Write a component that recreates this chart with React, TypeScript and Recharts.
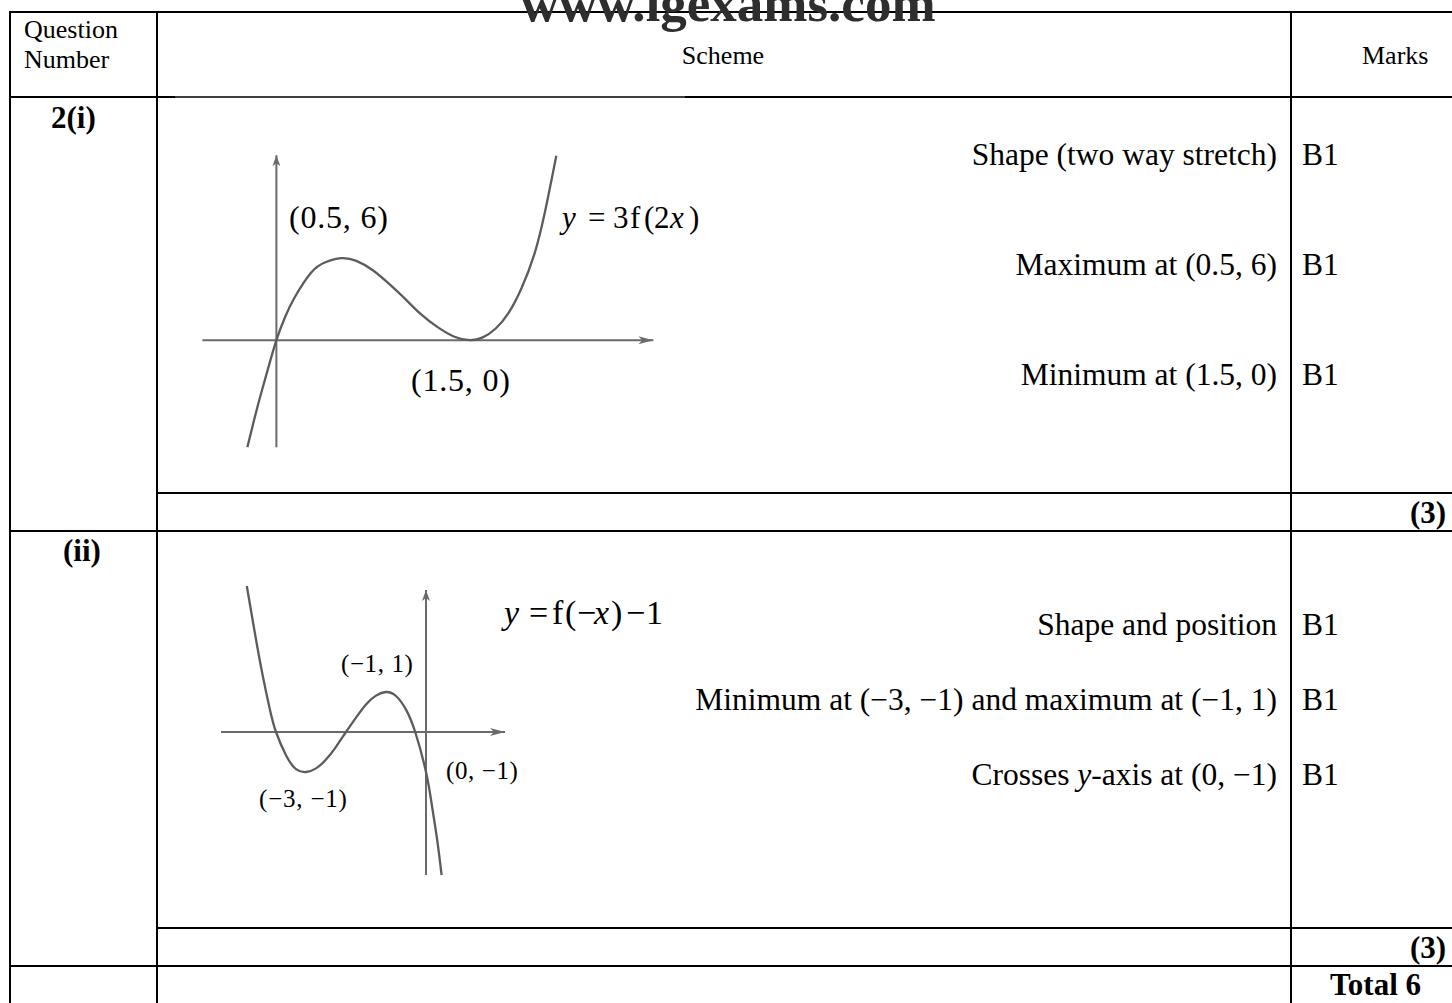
import React from 'react';
import { ComposedChart, Line, Scatter, XAxis, YAxis } from 'recharts';

// ---------- data ----------
// Sketch (i): y = 3f(2x)
const curve1 = [
  { x: -0.225, y: -7.83 },
  { x: -0.15, y: -5.0 },
  { x: -0.08, y: -2.6 },
  { x: 0, y: 0 },
  { x: 0.07, y: 1.75 },
  { x: 0.14, y: 3.1 },
  { x: 0.27, y: 4.95 },
  { x: 0.38, y: 5.7 },
  { x: 0.5, y: 6 },
  { x: 0.62, y: 5.8 },
  { x: 0.75, y: 5.1 },
  { x: 0.87, y: 4.15 },
  { x: 1.0, y: 3.0 },
  { x: 1.12, y: 1.9 },
  { x: 1.25, y: 0.95 },
  { x: 1.38, y: 0.25 },
  { x: 1.5, y: 0 },
  { x: 1.6, y: 0.2 },
  { x: 1.7, y: 0.85 },
  { x: 1.8, y: 2.0 },
  { x: 1.9, y: 3.8 },
  { x: 2.0, y: 6.3 },
  { x: 2.08, y: 9.3 },
  { x: 2.17, y: 13.5 },
];
const xAxis1 = [
  { x: -0.574, y: 0 },
  { x: 2.922, y: 0 },
];
const yAxis1 = [
  { x: 0, y: -7.83 },
  { x: 0, y: 13.53 },
];
const arrows1 = [
  { x: 2.922, y: 0, dir: 'right' },
  { x: 0, y: 13.53, dir: 'up' },
];

// Sketch (ii): y = f(-x) - 1
const curve2 = [
  { x: -4.48, y: 3.65 },
  { x: -4.3, y: 2.6 },
  { x: -4.1, y: 1.5 },
  { x: -3.9, y: 0.55 },
  { x: -3.75, y: 0 },
  { x: -3.5, y: -0.58 },
  { x: -3.25, y: -0.93 },
  { x: -3.0, y: -1 },
  { x: -2.75, y: -0.91 },
  { x: -2.5, y: -0.69 },
  { x: -2.25, y: -0.37 },
  { x: -2.0, y: 0 },
  { x: -1.75, y: 0.36 },
  { x: -1.5, y: 0.69 },
  { x: -1.25, y: 0.91 },
  { x: -1.0, y: 1 },
  { x: -0.75, y: 0.9 },
  { x: -0.5, y: 0.56 },
  { x: -0.27, y: 0 },
  { x: 0, y: -1.0 },
  { x: 0.15, y: -1.85 },
  { x: 0.28, y: -2.7 },
  { x: 0.39, y: -3.58 },
];
const xAxis2 = [
  { x: -5.125, y: 0 },
  { x: 1.975, y: 0 },
];
const yAxis2 = [
  { x: 0, y: -3.575 },
  { x: 0, y: 3.55 },
];
const arrows2 = [
  { x: 1.975, y: 0, dir: 'right' },
  { x: 0, y: 3.55, dir: 'up' },
];

// Texts
const headerTexts = ['Question', 'Number', 'Scheme', 'Marks'];
const watermark = 'www.igexams.com';
const questionLabels = ['2(i)', '(ii)'];
const scheme1 = ['Shape (two way stretch)', 'Maximum at (0.5, 6)', 'Minimum at (1.5, 0)'];
const marks1 = ['B1', 'B1', 'B1'];
const scheme2 = ['Shape and position', 'Minimum at (\u22123, \u22121) and maximum at (\u22121, 1)'];
const marks2 = ['B1', 'B1', 'B1'];
const subtotals = ['(3)', '(3)'];
const totalLabel = 'Total 6';
const pointLabels1 = ['(0.5, 6)', '(1.5, 0)'];
const pointLabels2 = ['(\u22121, 1)', '(0, \u22121)', '(\u22123, \u22121)'];

// ---------- styling ----------
const SERIF = "'Liberation Serif', 'Times New Roman', Times, serif";
const CURVE = '#5c5c5c';
const AXIS = '#6a6a6a';

const Arrow = (props: any) => {
  const { cx, cy, payload } = props;
  if (cx == null || cy == null) return null;
  const d =
    payload && payload.dir === 'right'
      ? `M${cx},${cy} L${cx - 15},${cy - 4} L${cx - 11},${cy} L${cx - 15},${cy + 4} Z`
      : `M${cx},${cy} L${cx - 4},${cy + 11} L${cx},${cy + 8} L${cx + 4},${cy + 11} Z`;
  return <path d={d} fill={AXIS} />;
};

type SketchProps = {
  left: number;
  top: number;
  width: number;
  height: number;
  xDomain: [number, number];
  yDomain: [number, number];
  curve: { x: number; y: number }[];
  xAxisPts: { x: number; y: number }[];
  yAxisPts: { x: number; y: number }[];
  arrows: { x: number; y: number; dir: string }[];
};

const Sketch = ({ left, top, width, height, xDomain, yDomain, curve, xAxisPts, yAxisPts, arrows }: SketchProps) => (
  <div style={{ position: 'absolute', left, top, width, height }}>
    <ComposedChart width={width} height={height} margin={{ top: 0, right: 0, bottom: 0, left: 0 }}>
      <XAxis type="number" dataKey="x" domain={xDomain} hide allowDataOverflow />
      <YAxis type="number" dataKey="y" domain={yDomain} hide allowDataOverflow />
      <Line data={xAxisPts} dataKey="y" type="linear" stroke={AXIS} strokeWidth={2} dot={false} activeDot={false} isAnimationActive={false} />
      <Line data={yAxisPts} dataKey="y" type="linear" stroke={AXIS} strokeWidth={2} dot={false} activeDot={false} isAnimationActive={false} />
      <Line data={curve} dataKey="y" type="natural" stroke={CURVE} strokeWidth={2.3} dot={false} activeDot={false} isAnimationActive={false} />
      <Scatter data={arrows} dataKey="y" shape={Arrow} isAnimationActive={false} />
    </ComposedChart>
  </div>
);

const Table = () => {
  const L = 10;
  const C1 = 157;
  const C2 = 1291;
  const R = 1452;
  const B = 1003;
  const sw = 2;
  return (
    <svg width={1452} height={1003} style={{ position: 'absolute', left: 0, top: 0 }}>
      <g stroke="#000" strokeWidth={sw}>
        <line x1={L} y1={12} x2={R} y2={12} />
        <line x1={L} y1={97} x2={175} y2={97} />
        <line x1={175} y1={97} x2={685} y2={97} strokeWidth={1.3} />
        <line x1={685} y1={97} x2={R} y2={97} />
        <line x1={C1} y1={493} x2={R} y2={493} />
        <line x1={L} y1={531} x2={R} y2={531} />
        <line x1={C1} y1={928} x2={R} y2={928} />
        <line x1={L} y1={966} x2={R} y2={966} />
        <line x1={L} y1={11} x2={L} y2={B} />
        <line x1={C1} y1={11} x2={C1} y2={B} />
        <line x1={C2} y1={11} x2={C2} y2={B} />
      </g>
      <g fontFamily={SERIF} fill="#000">
        {/* watermark */}
        <text x={728} y={21} textAnchor="middle" fontSize={53} fontWeight="bold" fill="#2e2e2e">
          {watermark}
        </text>
        {/* header */}
        <text x={24} y={38} fontSize={26}>{headerTexts[0]}</text>
        <text x={24} y={68} fontSize={26}>{headerTexts[1]}</text>
        <text x={723} y={64} fontSize={26} textAnchor="middle">{headerTexts[2]}</text>
        <text x={1362} y={64} fontSize={26}>{headerTexts[3]}</text>
        {/* question numbers */}
        <text x={51} y={128} fontSize={31} fontWeight="bold">{questionLabels[0]}</text>
        <text x={63} y={561} fontSize={31} fontWeight="bold">{questionLabels[1]}</text>
        {/* row 1 scheme */}
        {scheme1.map((t, i) => (
          <text key={'s1' + i} x={1277} y={165 + i * 110} fontSize={31.5} textAnchor="end">{t}</text>
        ))}
        {marks1.map((t, i) => (
          <text key={'m1' + i} x={1302} y={165 + i * 110} fontSize={31.5}>{t}</text>
        ))}
        {/* row 2 scheme */}
        {scheme2.map((t, i) => (
          <text key={'s2' + i} x={1277} y={635 + i * 75} fontSize={31.5} textAnchor="end">{t}</text>
        ))}
        <text x={1277} y={785} fontSize={31.5} textAnchor="end">
          <tspan>Crosses </tspan>
          <tspan fontStyle="italic">y</tspan>
          <tspan>-axis at (0, {'\u2212'}1)</tspan>
        </text>
        {marks2.map((t, i) => (
          <text key={'m2' + i} x={1302} y={635 + i * 75} fontSize={31.5}>{t}</text>
        ))}
        {/* subtotals */}
        <text x={1410} y={523} fontSize={31} fontWeight="bold">{subtotals[0]}</text>
        <text x={1410} y={958} fontSize={31} fontWeight="bold">{subtotals[1]}</text>
        <text x={1330} y={995} fontSize={31} fontWeight="bold">{totalLabel}</text>

        {/* sketch (i) labels */}
        <text x={289} y={228} fontSize={32} letterSpacing={0.8}>{pointLabels1[0]}</text>
        <text x={411} y={391} fontSize={32} letterSpacing={0.8}>{pointLabels1[1]}</text>
        <text y={228} fontSize={31}>
          <tspan x={562} fontStyle="italic">y</tspan>
          <tspan x={588}>=</tspan>
          <tspan x={613}>3</tspan>
          <tspan x={630}>f</tspan>
          <tspan x={644}>(</tspan>
          <tspan x={654}>2</tspan>
          <tspan x={670} fontStyle="italic">x</tspan>
          <tspan x={689}>)</tspan>
        </text>

        {/* sketch (ii) labels */}
        <text x={341} y={672} fontSize={25} letterSpacing={0.6}>{pointLabels2[0]}</text>
        <text x={446} y={779} fontSize={25} letterSpacing={0.6}>{pointLabels2[1]}</text>
        <text x={259} y={807} fontSize={25} letterSpacing={0.8}>{pointLabels2[2]}</text>
        <text y={624} fontSize={34}>
          <tspan x={504} fontStyle="italic">y</tspan>
          <tspan x={529}>=</tspan>
          <tspan x={552}>f</tspan>
          <tspan x={565}>(</tspan>
          <tspan x={577}>{'\u2212'}</tspan>
          <tspan x={594} fontStyle="italic">x</tspan>
          <tspan x={611}>)</tspan>
          <tspan x={626}>{'\u2212'}</tspan>
          <tspan x={646}>1</tspan>
        </text>
      </g>
    </svg>
  );
};

export default function App() {
  return (
    <div
      style={{
        position: 'absolute',
        left: 0,
        top: 0,
        width: 1452,
        height: 1003,
        background: '#fff',
        overflow: 'hidden',
        fontFamily: SERIF,
      }}
    >
      <Table />
      <Sketch
        left={198.6}
        top={141.8}
        width={464.4}
        height={314.3}
        xDomain={[-0.6, 3.0]}
        yDomain={[-8.5, 14.5]}
        curve={curve1}
        xAxisPts={xAxis1}
        yAxisPts={yAxis1}
        arrows={arrows1}
      />
      <Sketch
        left={206}
        top={552}
        width={340}
        height={360}
        xDomain={[-5.5, 3.0]}
        yDomain={[-4.5, 4.5]}
        curve={curve2}
        xAxisPts={xAxis2}
        yAxisPts={yAxis2}
        arrows={arrows2}
      />
    </div>
  );
}
